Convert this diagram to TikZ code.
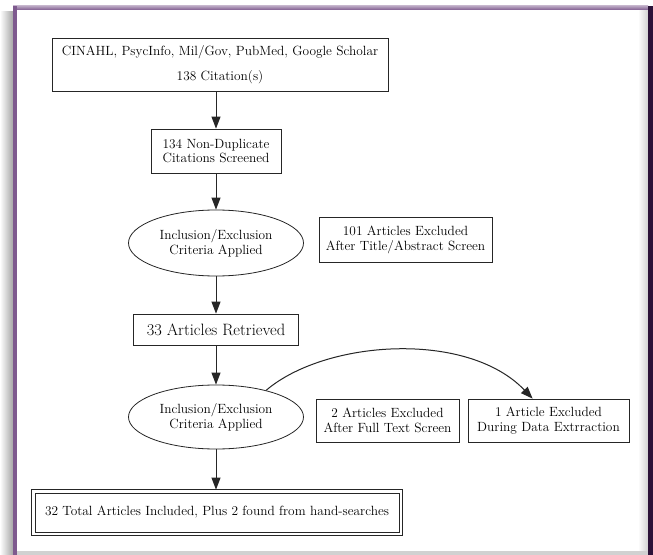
\documentclass[tikz,border=0pt]{standalone}
\usetikzlibrary{shapes.geometric,arrows.meta}
\definecolor{framepurple}{HTML}{7E5A8E}
\definecolor{framedark}{HTML}{2B1238}

\begin{document}
\begin{tikzpicture}[x=1bp,y=-1bp,
    box/.style={draw=black!85,line width=0.8bp,rectangle,inner sep=0pt,align=center,font=\fontsize{13.4}{15}\selectfont},
    oval/.style={draw=black!85,line width=0.8bp,ellipse,inner sep=0pt,align=center,font=\fontsize{13.4}{15}\selectfont},
    arr/.style={draw=black!85,line width=1bp,-{Triangle[length=12bp,width=9bp]}}]
    \useasboundingbox (0,0) rectangle (653,555);

    % frame round the chart
    \fill[white] (0,0) rectangle (653,555);
    \shade[left color=white,right color=black!35] (0,12) rectangle (13,555);
    \shade[left color=white,right color=black!18] (638,10) rectangle (648,551);
    \shade[top color=framepurple!55,bottom color=framepurple] (13,6) rectangle (648,10);
    \fill[framepurple] (13,6) rectangle (17,555);
    \fill[framedark] (648,6) rectangle (653,555);
    \fill[black!18] (17,551) rectangle (648,555);

    % main column
    \node[box,minimum width=336bp,minimum height=53bp] (src) at (220,64.5)
        {CINAHL, PsycInfo, Mil/Gov, PubMed, Google Scholar\\[10bp]138 Citation(s)};
    \node[box,minimum width=130bp,minimum height=44bp] (nodup) at (216,151)
        {134 Non-Duplicate\\Citations Screened};
    \node[oval,minimum width=175bp,minimum height=66bp] (incl1) at (216,243)
        {Inclusion/Exclusion\\Criteria Applied};
    \node[box,minimum width=165bp,minimum height=31bp,font=\fontsize{16.5}{18}\selectfont] (retr) at (216,329.5)
        {33 Articles Retrieved};
    \node[oval,minimum width=175bp,minimum height=64bp] (incl2) at (216,417)
        {Inclusion/Exclusion\\Criteria Applied};
    \node[box,minimum width=364bp,minimum height=39bp] (total) at (217,512.5)
        {32 Total Articles Included, Plus 2 found from hand-searches};
    \draw[black!85,line width=0.8bp] ([shift={(-3,-3)}]total.north west) rectangle ([shift={(3,3)}]total.south east);

    % excluded
    \node[box,minimum width=173bp,minimum height=45bp] (excl1) at (405.5,239.5)
        {101 Articles Excluded\\After Title/Abstract Screen};
    \node[box,minimum width=143bp,minimum height=43bp] (excl2) at (387.5,420.5)
        {2 Articles Excluded\\After Full Text Screen};
    \node[box,minimum width=161bp,minimum height=43bp] (excl3) at (548.5,420.5)
        {1 Article Excluded\\During Data Extrraction};

    \draw[arr] (src.south -| nodup.north) -- (nodup.north);
    \draw[arr] (nodup) -- (incl1);
    \draw[arr] (incl1) -- (retr);
    \draw[arr] (retr) -- (incl2);
    \draw[arr] (incl2.south) -- ([yshift=3bp]incl2.south |- total.north);
    \draw[arr] (incl2.28) .. controls (325,340) and (467,330) .. (excl3.126);
\end{tikzpicture}
\end{document}
